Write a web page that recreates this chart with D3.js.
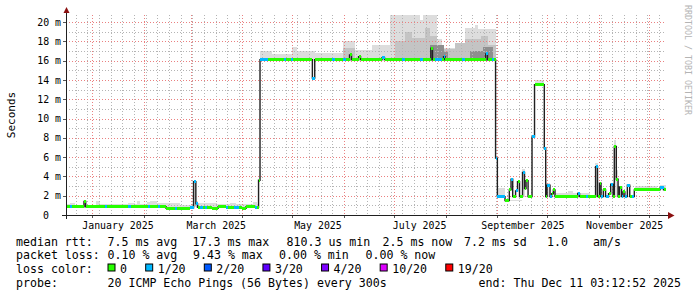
<!DOCTYPE html>
<html>
<head>
<meta charset="utf-8">
<script src="https://cdn.jsdelivr.net/npm/d3@7"></script>
<style>
  body { margin: 0; background: #fff; }
  svg text { font-family: 'DejaVu Sans Mono', monospace; fill: #000; }
</style>
</head>
<body>
<svg id="chart" width="697" height="297"></svg>
<script>
// Median rtt (ms) as steps: each value holds until the next date
const medianDates = [
  '2024-12-16T03', '2024-12-18T06', '2024-12-19T11', '2024-12-26T23', '2024-12-27T23',
  '2025-01-08T06', '2025-01-09T11', '2025-01-22T09', '2025-01-23T21',
  '2025-02-03T11', '2025-02-04T13', '2025-02-09T09', '2025-02-10T13', '2025-02-14T04',
  '2025-02-19T13', '2025-02-20T18', '2025-02-28T13',
  '2025-03-02T16', '2025-03-04T01', '2025-03-05T01', '2025-03-06T13', '2025-03-08T01',
  '2025-03-09T13', '2025-03-10T18', '2025-03-13T18', '2025-03-17T09', '2025-03-22T04',
  '2025-03-23T09', '2025-03-26T23', '2025-03-29T16', '2025-03-31T11',
  '2025-04-03T04', '2025-04-08T06', '2025-04-09T18', '2025-04-10T16', '2025-04-11T13',
  '2025-04-16T09', '2025-04-25T16', '2025-04-27T04', '2025-04-29T21',
  '2025-05-01T09', '2025-05-12T23', '2025-05-14T09', '2025-05-24T18', '2025-05-26T13', '2025-05-31T09',
  '2025-06-01T21', '2025-06-04T06', '2025-06-05T11', '2025-06-09T16', '2025-06-10T21',
  '2025-06-23T18', '2025-06-25T06',
  '2025-07-05T18', '2025-07-07T13', '2025-07-16T13', '2025-07-18T09', '2025-07-23T01',
  '2025-07-24T01', '2025-07-25T13', '2025-07-29T18', '2025-07-30T16', '2025-07-31T13',
  '2025-08-10T18', '2025-08-12T06', '2025-08-24T21', '2025-08-26T01', '2025-08-28T18',
  '2025-08-29T16', '2025-08-30T21', '2025-08-31T23',
  '2025-09-05T13', '2025-09-08T03', '2025-09-09T04', '2025-09-10T04', '2025-09-11T21',
  '2025-09-13T01', '2025-09-14T06', '2025-09-16T01', '2025-09-17T06', '2025-09-18T04',
  '2025-09-19T09', '2025-09-21T18', '2025-09-23T06', '2025-09-29T03', '2025-09-29T23',
  '2025-09-30T18',
  '2025-10-02T13', '2025-10-03T14', '2025-10-04T13', '2025-10-05T13', '2025-10-19T04',
  '2025-10-20T06', '2025-10-24T04', '2025-10-25T09', '2025-10-29T21', '2025-10-31T01',
  '2025-11-01T06', '2025-11-02T04', '2025-11-03T13', '2025-11-04T21', '2025-11-06T16',
  '2025-11-07T23', '2025-11-09T09', '2025-11-10T03', '2025-11-11T08', '2025-11-12T09',
  '2025-11-13T06', '2025-11-14T11', '2025-11-15T09', '2025-11-16T11', '2025-11-17T23',
  '2025-11-19T09', '2025-11-20T18', '2025-11-22T03',
  '2025-12-07T13', '2025-12-09T16'
];
const medianValues = [
  0.85, 0.85, 0.85, 1.4, 0.85,
  0.85, 0.85, 0.85, 0.85,
  0.85, 0.85, 0.85, 0.85, 0.7,
  0.7, 0.7, 0.75,
  3.45, 1.15, 0.8, 0.8, 0.8,
  0.75, 0.75, 0.7, 0.85, 0.8,
  0.8, 0.75, 0.75, 0.7,
  0.85, 0.8, 0.8, 3.6, 16.1,
  16.1, 16.1, 16.1, 16.1,
  16.1, 14.2, 16.1, 16.1, 16.1, 16.1,
  16.1, 16.6, 16.1, 16.4, 16.1,
  16.3, 16.1,
  16.1, 16.1, 16.1, 16.1, 17.3,
  16.1, 16.1, 16.1, 16.4, 16.1,
  16.1, 16.1, 16.7, 16.1, 16.1,
  16.1, 5.9, 1.9,
  1.5, 2.6, 3.7, 1.9, 2.5,
  3.45, 1.9, 4.4, 2.75, 3.55,
  1.9, 8.1, 13.5, 6.9, 1.9,
  3.1,
  1.9, 2.2, 2.6, 1.9, 2.2,
  1.9, 1.9, 1.9, 5.0, 1.9,
  3.3, 1.9, 2.6, 1.9, 2.2,
  3.2, 1.9, 7.1, 3.7, 1.9,
  2.9, 1.9, 2.4, 1.9, 3.1,
  1.9, 1.9, 2.6,
  2.8, 2.6
];
// index into lossLevels / lossColors
const medianLoss = [
  0, 1, 0, 0, 0,
  1, 0, 1, 0,
  1, 0, 1, 0, 0,
  1, 0, 1,
  1, 1, 0, 1, 0,
  1, 0, 0, 0, 1,
  0, 1, 0, 0,
  0, 1, 0, 0, 1,
  0, 1, 0, 1,
  0, 1, 0, 1, 0, 1,
  0, 0, 0, 0, 0,
  1, 0,
  1, 0, 1, 0, 0,
  0, 1, 0, 1, 0,
  1, 0, 1, 0, 1,
  0, 1, 1,
  0, 0, 1, 0, 1,
  0, 0, 1, 0, 0,
  0, 1, 0, 1, 0,
  1,
  1, 0, 0, 0, 1,
  0, 1, 0, 1, 0,
  0, 1, 0, 1, 0,
  1, 0, 0, 0, 0,
  0, 1, 0, 1, 1,
  0, 1, 0,
  1, 0
];

// Smoke (spread of the 20 pings), light layer: low / high bound in ms
const smokeDates = [
  '2024-12-16T03', '2024-12-18T13', '2024-12-21T13', '2024-12-26T09', '2024-12-28T04',
  '2025-01-03T04', '2025-01-05T13', '2025-01-22T09', '2025-01-26T13', '2025-01-27T18',
  '2025-01-29T13', '2025-02-02T18', '2025-02-04T13', '2025-02-08T18', '2025-02-19T13',
  '2025-02-22T13', '2025-03-02T16', '2025-03-04T01', '2025-03-05T09', '2025-03-16T18',
  '2025-03-24T13', '2025-03-28T04', '2025-04-07T09', '2025-04-09T18', '2025-04-10T16',
  '2025-04-11T13', '2025-04-18T18', '2025-04-30T18', '2025-05-03T18', '2025-05-14T13',
  '2025-05-31T09', '2025-06-07T13', '2025-06-17T18', '2025-06-28T13', '2025-07-16T13',
  '2025-07-18T09', '2025-07-26T18', '2025-07-29T18', '2025-08-12T13', '2025-08-18T13',
  '2025-08-20T09', '2025-08-30T21', '2025-08-31T23', '2025-09-05T13', '2025-09-15T11',
  '2025-09-17T13', '2025-09-21T18', '2025-09-23T06', '2025-09-29T03', '2025-09-30T04',
  '2025-10-02T13', '2025-10-05T13', '2025-10-13T09', '2025-10-16T09', '2025-10-26T13',
  '2025-10-29T13', '2025-10-31T01', '2025-11-09T23', '2025-11-11T08', '2025-11-12T09',
  '2025-11-22T13', '2025-12-05T18', '2025-12-07T13'
];
const smokeLo = [
  0.8, 0.8, 0.8, 0.8, 0.8,
  0.8, 0.8, 0.8, 0.8, 0.8,
  0.8, 0.8, 0.8, 0.8, 0.8,
  0.8, 0.8, 0.8, 0.8, 0.8,
  0.8, 0.8, 0.8, 0.8, 3.6,
  16.0, 16.0, 16.0, 16.0, 16.0,
  16.0, 16.0, 16.0, 16.0, 16.0,
  16.0, 16.0, 16.0, 16.0, 16.0,
  16.0, 5.9, 1.9, 1.5, 1.9,
  1.9, 8.1, 13.5, 6.9, 1.9,
  1.9, 1.9, 1.9, 1.9, 1.9,
  1.9, 1.9, 1.9, 1.9, 1.9,
  2.6, 2.6, 2.6
];
const smokeHi = [
  1.1, 1.27, 1.05, 1.5, 1.05,
  1.45, 1.15, 1.25, 1.15, 1.45,
  1.15, 1.3, 1.4, 1.2, 1.25,
  1.05, 3.6, 1.45, 1.2, 1.15,
  1.25, 1.15, 1.3, 1.1, 3.6,
  16.96, 16.7, 17.4, 17.0, 16.8,
  18.0, 17.1, 17.65, 21, 20.2,
  21, 18.2, 17.3, 19.4, 19.7,
  19.3, 5.9, 2.8, 1.6, 4.8,
  2.0, 8.1, 14.0, 6.9, 3.3,
  2.0, 2.25, 2.5, 2.25, 2.0,
  5.35, 2.0, 7.8, 4.65, 2.0,
  3.0, 2.8, 3.1
];

// Smoke, medium grey layer
const midDates = [
  '2025-05-31T09', '2025-06-07T13', '2025-07-01T13', '2025-07-07T13', '2025-07-11T18',
  '2025-07-19T13', '2025-07-22T13', '2025-07-26T18', '2025-08-06T13', '2025-08-12T13',
  '2025-08-22T04', '2025-08-26T09', '2025-08-30T21'
];
const midLo = [16.0, 16.0, 16.0, 16.0, 16.0, 16.0, 16.0, 16.0, 16.0, 16.0, 16.0, 16.0, 5.9];
const midHi = [17.3, 16.0, 18.0, 19.0, 18.3, 19.4, 18.6, 17.2, 17.8, 18.2, 18.6, 17.6, 5.9];

// Smoke, dark grey layer
const darkDates = [
  '2025-07-22T13', '2025-07-30T23', '2025-08-02T09', '2025-08-15T13', '2025-08-23T09', '2025-08-29T09'
];
const darkLo = [16.0, 16.0, 16.0, 16.0, 16.0, 16.0];
const darkHi = [17.6, 16.9, 16.0, 17.0, 17.4, 16.0];

const lossLevels = ['0', '1/20', '2/20', '3/20', '4/20', '10/20', '19/20'];
const lossColors = ['#26ff00', '#00b8ff', '#0059ff', '#5e00ff', '#7e00ff', '#dd00ff', '#ff0000'];

const yTickValues = [0, 2, 4, 6, 8, 10, 12, 14, 16, 18, 20];

const rttLabel = 'median rtt:';
const rttStats = ['7.5 ms avg', '17.3 ms max', '810.3 us min', '2.5 ms now', '7.2 ms sd', '1.0', 'am/s'];
const lossLabel = 'packet loss:';
const lossStats = ['0.10 % avg', '9.43 % max', '0.00 % min', '0.00 % now'];
const colorLabel = 'loss color:';
const probeLabel = 'probe:';
const probeText = '20 ICMP Echo Pings (56 Bytes) every 300s';
const endText = 'end: Thu Dec 11 03:12:52 2025';

// ---- layout ----
const W = 697;
const H = 297;
const plot = { left: 66, right: 666, top: 15, bottom: 215 };
const rttX = [107.5, 192.5, 286.5, 382.5, 464, 547, 593];
const lossX = [107.5, 193, 279, 365.5];

const parse = d3.utcParse('%Y-%m-%dT%H');
const endTime = new Date(Date.UTC(2025, 11, 11, 3, 12, 52));
const startTime = new Date(+endTime - 360 * 86400e3);

const x = d3.scaleUtc().domain([startTime, endTime]).range([plot.left, plot.right]);
const y = d3.scaleLinear().domain([0, 20.73]).range([plot.bottom, plot.top]);

const svg = d3.select('#chart');
svg.append('rect').attr('width', W).attr('height', H).attr('fill', '#ffffff');

svg.append('clipPath').attr('id', 'clip')
  .append('rect')
  .attr('x', plot.left)
  .attr('y', plot.top)
  .attr('width', plot.right - plot.left)
  .attr('height', plot.bottom - plot.top);

// turn parallel arrays into step segments
function toSteps(dates, ...cols) {
  return dates.map((d, i) => ({
    t0: parse(d),
    t1: i + 1 < dates.length ? parse(dates[i + 1]) : endTime,
    v: cols.map((c) => c[i])
  }));
}

const chart = svg.append('g').attr('clip-path', 'url(#clip)');

// Smoke layers
function drawSmoke(dates, lo, hi, color) {
  const steps = toSteps(dates, lo, hi).filter((s) => s.v[1] > s.v[0]);
  chart.append('g')
    .attr('shape-rendering', 'crispEdges')
    .selectAll('rect')
    .data(steps)
    .enter()
    .append('rect')
    .attr('x', (s) => x(s.t0))
    .attr('width', (s) => Math.max(1, x(s.t1) - x(s.t0)))
    .attr('y', (s) => y(s.v[1]))
    .attr('height', (s) => y(s.v[0]) - y(s.v[1]))
    .attr('fill', color);
}
drawSmoke(smokeDates, smokeLo, smokeHi, '#dddddd');
drawSmoke(midDates, midLo, midHi, '#c4c4c4');
drawSmoke(darkDates, darkLo, darkHi, '#8e8e8e');

// Grid: weeks (minor) and months (major) on x, 1 ms / 2 ms on y
const minorColor = '#b4b4b4';
const majorColor = '#ea8080';
const grid = chart.append('g').attr('shape-rendering', 'crispEdges');
grid.selectAll('.wk')
  .data(x.ticks(d3.utcSunday))
  .enter()
  .append('line')
  .attr('x1', (d) => Math.round(x(d)) + 0.5)
  .attr('x2', (d) => Math.round(x(d)) + 0.5)
  .attr('y1', plot.top)
  .attr('y2', plot.bottom)
  .attr('stroke', minorColor)
  .attr('stroke-dasharray', '1,2');
grid.selectAll('.ms')
  .data(d3.range(1, 21).filter((v) => v % 2))
  .enter()
  .append('line')
  .attr('x1', plot.left)
  .attr('x2', plot.right + 2)
  .attr('y1', (v) => Math.round(y(v)) + 0.5)
  .attr('y2', (v) => Math.round(y(v)) + 0.5)
  .attr('stroke', minorColor)
  .attr('stroke-dasharray', '1,2');
grid.selectAll('.mon')
  .data(x.ticks(d3.utcMonth))
  .enter()
  .append('line')
  .attr('x1', (d) => Math.round(x(d)) + 0.5)
  .attr('x2', (d) => Math.round(x(d)) + 0.5)
  .attr('y1', plot.top)
  .attr('y2', plot.bottom)
  .attr('stroke', majorColor)
  .attr('stroke-dasharray', '1,2');
grid.selectAll('.ms2')
  .data(yTickValues.filter((v) => v > 0))
  .enter()
  .append('line')
  .attr('x1', plot.left)
  .attr('x2', plot.right + 2)
  .attr('y1', (v) => Math.round(y(v)) + 0.5)
  .attr('y2', (v) => Math.round(y(v)) + 0.5)
  .attr('stroke', majorColor)
  .attr('stroke-dasharray', '1,2');

// Median line
const medSteps = toSteps(medianDates, medianValues, medianLoss);
const medPts = medSteps.map((s) => [s.t0, s.v[0]]);
medPts.push([endTime, medianValues[medianValues.length - 1]]);
chart.append('path')
  .datum(medPts)
  .attr('fill', 'none')
  .attr('stroke', '#202020')
  .attr('stroke-width', 1.4)
  .attr('d', d3.line().x((p) => x(p[0])).y((p) => y(p[1])).curve(d3.curveStepAfter));

// Loss-coloured median marks
chart.append('g')
  .attr('shape-rendering', 'crispEdges')
  .selectAll('rect')
  .data(medSteps)
  .enter()
  .append('rect')
  .attr('x', (s) => x(s.t0))
  .attr('width', (s) => Math.max(1.5, x(s.t1) - x(s.t0)))
  .attr('y', (s) => y(s.v[0]) - 1.5)
  .attr('height', 3)
  .attr('fill', (s) => lossColors[s.v[1]]);

// X axis labels, centred half a month after each second month start
const labelDates = d3.utcMonth.every(2).range(startTime, endTime).map((m) => d3.utcDay.offset(m, 15));
const xAxis = svg.append('g')
  .attr('transform', 'translate(0,' + plot.bottom + ')')
  .call(d3.axisBottom(x).tickValues(labelDates).tickFormat(d3.utcFormat('%B %Y')).tickSize(0).tickPadding(7));
xAxis.select('.domain').remove();
xAxis.selectAll('text').style('font-size', '9.9px').style('font-family', "'DejaVu Sans Mono', monospace");

// Y axis labels
const yAxis = svg.append('g')
  .attr('transform', 'translate(61,0)')
  .call(d3.axisLeft(y).tickValues(yTickValues).tickFormat((v) => (v ? v + ' m' : '0')).tickSize(0).tickPadding(0));
yAxis.select('.domain').remove();
yAxis.selectAll('text').style('font-size', '9.9px').style('font-family', "'DejaVu Sans Mono', monospace");
yAxis.selectAll('text').filter((v) => v === 0).attr('dx', -12);

// tick marks on the axes
svg.append('g')
  .selectAll('line')
  .data(x.ticks(d3.utcMonth))
  .enter()
  .append('line')
  .attr('x1', (d) => Math.round(x(d)) + 0.5)
  .attr('x2', (d) => Math.round(x(d)) + 0.5)
  .attr('y1', plot.bottom)
  .attr('y2', plot.bottom + 3)
  .attr('stroke', '#555');
svg.append('g')
  .selectAll('line')
  .data(yTickValues)
  .enter()
  .append('line')
  .attr('x1', plot.left - 3)
  .attr('x2', plot.left)
  .attr('y1', (v) => Math.round(y(v)) + 0.5)
  .attr('y2', (v) => Math.round(y(v)) + 0.5)
  .attr('stroke', '#555');

// axis lines + arrows
svg.append('line')
  .attr('x1', 62).attr('x2', 669).attr('y1', plot.bottom + 0.5).attr('y2', plot.bottom + 0.5)
  .attr('stroke', '#202020');
svg.append('line')
  .attr('x1', plot.left + 0.5).attr('x2', plot.left + 0.5).attr('y1', 219).attr('y2', 11)
  .attr('stroke', '#202020');
svg.append('path').attr('d', 'M63.5,13L69.5,13L66.5,7Z').attr('fill', '#8b1010');
svg.append('path').attr('d', 'M668,212L668,219L674.5,215.5Z').attr('fill', '#8b1010');

// Y axis title and watermark
svg.append('text')
  .attr('transform', 'translate(11,115) rotate(-90)')
  .attr('text-anchor', 'middle')
  .attr('dominant-baseline', 'central')
  .style('font-size', '11px')
  .text('Seconds');
svg.append('text')
  .attr('transform', 'translate(687.5,5) rotate(90)')
  .attr('dominant-baseline', 'central')
  .style('font-size', '8.3px')
  .style('fill', '#b4b4b4')
  .text('RRDTOOL / TOBI OETIKER');

// Legend
const legend = svg.append('g').style('font-size', '11.6px');
const lineY = [245.5, 259.2, 272.9, 286.6];
function legendText(str, px, py) {
  return legend.append('text').attr('x', px).attr('y', py).text(str);
}
legendText(rttLabel, 16, lineY[0]);
rttStats.forEach((s, i) => legendText(s, rttX[i], lineY[0]));
legendText(lossLabel, 16, lineY[1]);
lossStats.forEach((s, i) => legendText(s, lossX[i], lineY[1]));
legendText(colorLabel, 16, lineY[2]);
let bx = 107.5;
lossLevels.forEach((lab, i) => {
  legend.append('rect')
    .attr('x', bx + 0.5)
    .attr('y', 264)
    .attr('width', 7)
    .attr('height', 7)
    .attr('fill', lossColors[i])
    .attr('stroke', '#000')
    .attr('stroke-width', 1);
  const t = legendText(lab, bx + 12.5, lineY[2]);
  bx = bx + 12.5 + t.node().getComputedTextLength() + 18.2;
});
legendText(probeLabel, 16, lineY[3]);
legendText(probeText, 107.5, lineY[3]);
legendText(endText, 681, lineY[3]).attr('text-anchor', 'end');
</script>
</body>
</html>
